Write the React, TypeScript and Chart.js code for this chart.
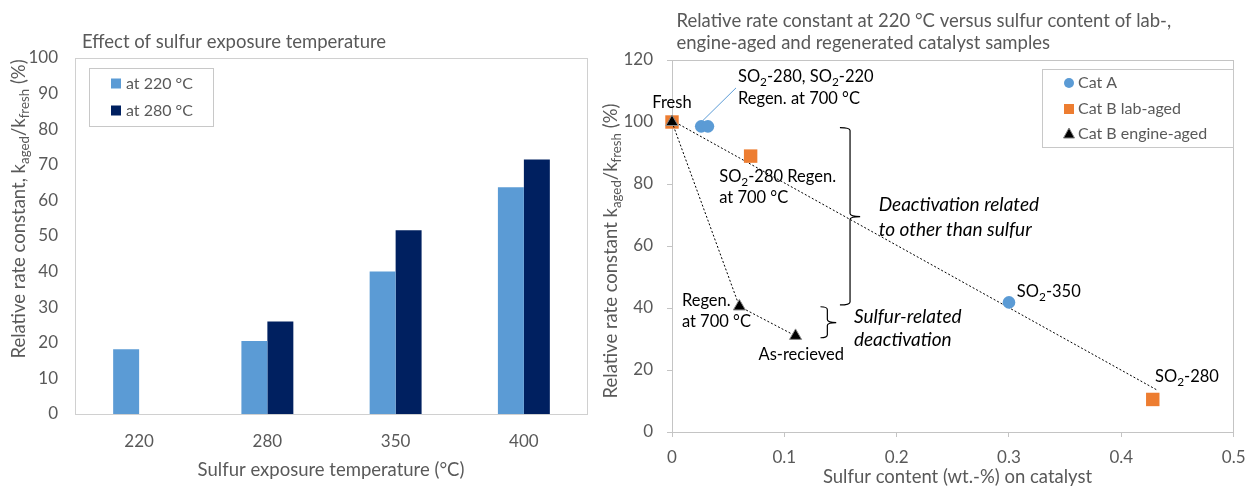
import React, { useEffect, useRef } from "react";
import { Chart, registerables } from "chart.js";
Chart.register(...registerables);

const FONT = "Lato, 'Open Sans', 'DejaVu Sans', sans-serif";
const TEXT_GRAY = "#595959";
const BLUE = "#5B9BD5";
const NAVY = "#002060";
const ORANGE = "#ED7D31";

// ---------- Left chart data ----------
const tempCategories = ["220", "280", "350", "400"];
const rate220 = [18.2, 20.5, 40.0, 63.7];
const rate280: (number | null)[] = [null, 26.0, 51.6, 71.5];
const barSeriesNames = ["at 220 °C", "at 280 °C"];
const barYTicks = [0, 10, 20, 30, 40, 50, 60, 70, 80, 90, 100];
const leftTitle = "Effect of sulfur exposure temperature";
const leftYTitle = "Relative rate constant, k_{aged}/k_{fresh} (%)";
const leftXTitle = "Sulfur exposure temperature (°C)";

// ---------- Right chart data ----------
const catAX = [0.026, 0.032, 0.3];
const catAY = [98.6, 98.6, 41.8];
const catBLabX = [0, 0.07, 0.428];
const catBLabY = [100, 89, 10.5];
const catBEngX = [0, 0.06, 0.11];
const catBEngY = [100, 40.5, 31];
const trendX = [0, 0.432];
const trendY = [100.5, 13.5];
const leaderX = [0.027, 0.057];
const leaderY = [100.3, 111];
const scatterNames = ["Cat A", "Cat B lab-aged", "Cat B engine-aged"];
const scatterXTicks = [0, 0.1, 0.2, 0.3, 0.4, 0.5];
const scatterXLabels = ["0", "0.1", "0.2", "0.3", "0.4", "0.5"];
const scatterYTicks = [0, 20, 40, 60, 80, 100, 120];
const rightTitle = [
  "Relative rate constant at 220 °C versus sulfur content of lab-,",
  "engine-aged and regenerated catalyst samples",
];
const rightYTitle = "Relative rate constant k_{aged}/k_{fresh} (%)";
const rightXTitle = "Sulfur content (wt.-%) on catalyst";

// annotation texts anchored in data coordinates
const annotations = [
  { text: "Fresh", x: 0, y: 106.1, align: "center", italic: false },
  { text: "SO_{2}-280, SO_{2}-220", x: 0.0587, y: 114.5, align: "left", italic: false },
  { text: "Regen. at 700 °C", x: 0.0587, y: 107.4, align: "left", italic: false },
  { text: "SO_{2}-280 Regen.", x: 0.042, y: 82.3, align: "left", italic: false },
  { text: "at 700 °C", x: 0.042, y: 75.5, align: "left", italic: false },
  { text: "Deactivation related", x: 0.184, y: 73.2, align: "left", italic: true },
  { text: "to other than sulfur", x: 0.184, y: 65.2, align: "left", italic: true },
  { text: "SO_{2}-350", x: 0.307, y: 45.2, align: "left", italic: false },
  { text: "SO_{2}-280", x: 0.43, y: 17.7, align: "left", italic: false },
  { text: "Regen.", x: 0.0088, y: 42.3, align: "left", italic: false },
  { text: "at 700 °C", x: 0.0088, y: 35.5, align: "left", italic: false },
  { text: "As-recieved", x: 0.077, y: 24.8, align: "left", italic: false },
  { text: "Sulfur-related", x: 0.162, y: 37.1, align: "left", italic: true },
  { text: "deactivation", x: 0.162, y: 29.7, align: "left", italic: true },
];
// braces: [xEnd, xSpine, xTip, yTop, yMid, yBottom]
const braces = [
  [0.1495, 0.1585, 0.1675, 98.2, 69.5, 41.0],
  [0.1322, 0.1383, 0.1462, 40.4, 35.3, 30.4],
];

type Seg = { t: string; sub: boolean };
function parseRich(s: string): Seg[] {
  const out: Seg[] = [];
  const re = /_\{([^}]*)\}/g;
  let last = 0;
  let m: RegExpExecArray | null;
  while ((m = re.exec(s))) {
    if (m.index > last) out.push({ t: s.slice(last, m.index), sub: false });
    out.push({ t: m[1], sub: true });
    last = re.lastIndex;
  }
  if (last < s.length) out.push({ t: s.slice(last), sub: false });
  return out;
}
function fontStr(size: number, italic: boolean) {
  return `${italic ? "italic " : ""}${size}px ${FONT}`;
}
function drawRich(
  ctx: CanvasRenderingContext2D,
  s: string,
  x: number,
  y: number,
  size: number,
  color: string,
  align: string = "left",
  italic = false
) {
  const segs = parseRich(s);
  let w = 0;
  for (const g of segs) {
    ctx.font = fontStr(g.sub ? size * 0.72 : size, italic);
    w += ctx.measureText(g.t).width;
  }
  let cx = align === "center" ? x - w / 2 : align === "right" ? x - w : x;
  ctx.fillStyle = color;
  ctx.textBaseline = "middle";
  ctx.textAlign = "left";
  for (const g of segs) {
    ctx.font = fontStr(g.sub ? size * 0.72 : size, italic);
    ctx.fillText(g.t, cx, g.sub ? y + size * 0.3 : y);
    cx += ctx.measureText(g.t).width;
  }
}
function drawBox(ctx: CanvasRenderingContext2D, a: any, color: string) {
  ctx.save();
  ctx.strokeStyle = color;
  ctx.lineWidth = 1;
  const l = Math.round(a.left) + 0.5;
  const t = Math.round(a.top) + 0.5;
  const r = Math.round(a.right) - 0.5;
  const b = Math.round(a.bottom) + 0.5;
  ctx.strokeRect(l, t, r - l, b - t);
  ctx.restore();
}

const TITLE_SIZE = 18.5;
const TICK_SIZE = 17;
const LEGEND_SIZE = 16;
const NOTE_SIZE = 16.5;
const NOTE_ITALIC_SIZE = 19;

function leftConfig(): any {
  const decor = {
    id: "leftDecor",
    beforeDatasetsDraw(chart: any) {
      drawBox(chart.ctx, chart.chartArea, "#D0D0D0");
    },
    afterDraw(chart: any) {
      const ctx: CanvasRenderingContext2D = chart.ctx;
      ctx.save();
      drawRich(ctx, leftTitle, 82, 42, TITLE_SIZE, TEXT_GRAY);
      drawRich(ctx, leftXTitle, 331, 470, TITLE_SIZE, TEXT_GRAY, "center");
      ctx.translate(19, 209);
      ctx.rotate(-Math.PI / 2);
      drawRich(ctx, leftYTitle, 0, 0, TITLE_SIZE, TEXT_GRAY, "center");
      ctx.restore();
      // legend
      ctx.save();
      ctx.strokeStyle = "#C8C8C8";
      ctx.lineWidth = 1;
      ctx.strokeRect(89.5, 68.5, 124, 58);
      const cols = [BLUE, NAVY];
      const ys = [83.5, 110.5];
      chart.data.datasets.forEach((ds: any, i: number) => {
        ctx.fillStyle = cols[i];
        ctx.fillRect(111, ys[i] - 5, 10, 10);
        drawRich(ctx, ds.label, 126, ys[i], LEGEND_SIZE, TEXT_GRAY);
      });
      ctx.restore();
    },
  };
  return {
    type: "bar",
    data: {
      labels: tempCategories,
      datasets: [
        { label: barSeriesNames[0], data: rate220, backgroundColor: BLUE },
        { label: barSeriesNames[1], data: rate280, backgroundColor: NAVY },
      ],
    },
    options: {
      responsive: false,
      animation: false,
      events: [],
      layout: { padding: { left: 0, top: 58, right: 12, bottom: 0 } },
      datasets: { bar: { categoryPercentage: 0.405, barPercentage: 1.0 } },
      plugins: { legend: { display: false }, tooltip: { enabled: false } },
      scales: {
        x: {
          grid: { display: false, drawTicks: false, tickLength: 0 },
          border: { display: false },
          ticks: { color: TEXT_GRAY, font: { family: FONT, size: TICK_SIZE }, padding: 17.5 },
          afterFit: (s: any) => {
            s.height = 73;
          },
        },
        y: {
          min: 0,
          max: 100,
          grid: { display: false, drawTicks: false, tickLength: 0 },
          border: { display: false },
          afterBuildTicks: (s: any) => {
            s.ticks = barYTicks.map((v) => ({ value: v }));
          },
          ticks: { color: TEXT_GRAY, font: { family: FONT, size: TICK_SIZE }, padding: 17 },
          afterFit: (s: any) => {
            s.width = 75;
          },
        },
      },
    },
    plugins: [decor],
  };
}

function drawMarker(ctx: CanvasRenderingContext2D, kind: string, x: number, y: number) {
  ctx.save();
  if (kind === "circle") {
    ctx.fillStyle = BLUE;
    ctx.beginPath();
    ctx.arc(x, y, 5, 0, Math.PI * 2);
    ctx.fill();
  } else if (kind === "rect") {
    ctx.fillStyle = ORANGE;
    ctx.fillRect(x - 5, y - 5, 10, 10);
  } else {
    ctx.fillStyle = "#000";
    ctx.strokeStyle = "#808080";
    ctx.lineWidth = 1;
    ctx.beginPath();
    ctx.moveTo(x, y - 6);
    ctx.lineTo(x + 5.5, y + 4);
    ctx.lineTo(x - 5.5, y + 4);
    ctx.closePath();
    ctx.fill();
    ctx.stroke();
  }
  ctx.restore();
}

function rightConfig(): any {
  const decor = {
    id: "rightDecor",
    beforeDatasetsDraw(chart: any) {
      drawBox(chart.ctx, chart.chartArea, "#C4C4C4");
    },
    afterDatasetsDraw(chart: any) {
      const ctx: CanvasRenderingContext2D = chart.ctx;
      const xs = chart.scales.x;
      const ys = chart.scales.y;
      ctx.save();
      ctx.strokeStyle = "#000";
      ctx.lineWidth = 1.2;
      for (const b of braces) {
        const xe = xs.getPixelForValue(b[0]);
        const xv = xs.getPixelForValue(b[1]);
        const xt = xs.getPixelForValue(b[2]);
        const yt = ys.getPixelForValue(b[3]);
        const ym = ys.getPixelForValue(b[4]);
        const yb = ys.getPixelForValue(b[5]);
        const r = 3;
        ctx.beginPath();
        ctx.moveTo(xe, yt);
        ctx.quadraticCurveTo(xv, yt, xv, yt + r);
        ctx.lineTo(xv, ym - r);
        ctx.quadraticCurveTo(xv, ym, xt, ym);
        ctx.quadraticCurveTo(xv, ym, xv, ym + r);
        ctx.lineTo(xv, yb - r);
        ctx.quadraticCurveTo(xv, yb, xe, yb);
        ctx.stroke();
      }
      for (const a of annotations) {
        drawRich(
          ctx,
          a.text,
          xs.getPixelForValue(a.x),
          ys.getPixelForValue(a.y),
          a.italic ? NOTE_ITALIC_SIZE : NOTE_SIZE,
          "#000",
          a.align,
          a.italic
        );
      }
      ctx.restore();
    },
    afterDraw(chart: any) {
      const ctx: CanvasRenderingContext2D = chart.ctx;
      ctx.save();
      drawRich(ctx, rightTitle[0], 76.5, 21.5, TITLE_SIZE, TEXT_GRAY);
      drawRich(ctx, rightTitle[1], 76.5, 43.5, TITLE_SIZE, TEXT_GRAY);
      drawRich(ctx, rightXTitle, 357.5, 477, TITLE_SIZE, TEXT_GRAY, "center");
      ctx.translate(11.5, 251);
      ctx.rotate(-Math.PI / 2);
      drawRich(ctx, rightYTitle, 0, 0, TITLE_SIZE, TEXT_GRAY, "center");
      ctx.restore();
      // legend
      ctx.save();
      ctx.strokeStyle = "#C8C8C8";
      ctx.lineWidth = 1;
      ctx.strokeRect(442.5, 69.5, 191, 78);
      const kinds = ["circle", "rect", "triangle"];
      const ly = [83, 109, 134];
      for (let i = 0; i < 3; i++) {
        drawMarker(ctx, kinds[i], 469, ly[i]);
        drawRich(ctx, scatterNames[i], 478, ly[i], LEGEND_SIZE, TEXT_GRAY);
      }
      ctx.restore();
    },
  };
  const pts = (xs: number[], ys: number[]) => xs.map((x, i) => ({ x, y: ys[i] }));
  return {
    type: "scatter",
    data: {
      datasets: [
        {
          label: scatterNames[0],
          data: pts(catAX, catAY),
          pointStyle: "circle",
          pointRadius: 6.3,
          backgroundColor: BLUE,
          borderColor: BLUE,
          borderWidth: 0,
          clip: false,
        },
        {
          label: scatterNames[2],
          data: pts(catBEngX, catBEngY),
          showLine: true,
          borderColor: "#000",
          borderWidth: 1,
          borderDash: [2, 2],
          pointStyle: "triangle",
          pointRadius: 7,
          pointBackgroundColor: "#000",
          pointBorderColor: "#8a8a8a",
          pointBorderWidth: 1,
          clip: false,
        },
        {
          label: scatterNames[1],
          data: pts(catBLabX, catBLabY),
          pointStyle: "rect",
          pointRadius: 9.5,
          backgroundColor: ORANGE,
          borderColor: ORANGE,
          borderWidth: 0,
          clip: false,
        },
        {
          label: "trend",
          data: pts(trendX, trendY),
          showLine: true,
          borderColor: "#000",
          borderWidth: 1,
          borderDash: [2, 2],
          pointRadius: 0,
          clip: false,
        },
        {
          label: "leader",
          data: pts(leaderX, leaderY),
          showLine: true,
          borderColor: BLUE,
          borderWidth: 1,
          pointRadius: 0,
          clip: false,
        },
      ],
    },
    options: {
      responsive: false,
      animation: false,
      events: [],
      layout: { padding: { left: 0, top: 60, right: 13, bottom: 0 } },
      plugins: { legend: { display: false }, tooltip: { enabled: false } },
      scales: {
        x: {
          type: "linear",
          min: 0,
          max: 0.5,
          afterBuildTicks: (s: any) => {
            s.ticks = scatterXTicks.map((v) => ({ value: v }));
          },
          grid: { display: true, drawOnChartArea: false, drawTicks: true, tickLength: 5, color: "#C4C4C4" },
          border: { display: false },
          ticks: {
            color: TEXT_GRAY,
            font: { family: FONT, size: TICK_SIZE },
            padding: 10.5,
            callback: (_v: any, i: number) => scatterXLabels[i],
          },
          afterFit: (s: any) => {
            s.height = 55;
          },
        },
        y: {
          type: "linear",
          min: 0,
          max: 120,
          afterBuildTicks: (s: any) => {
            s.ticks = scatterYTicks.map((v) => ({ value: v }));
          },
          grid: { display: true, drawOnChartArea: false, drawTicks: true, tickLength: 5, color: "#C4C4C4" },
          border: { display: false },
          ticks: {
            color: TEXT_GRAY,
            font: { family: FONT, size: TICK_SIZE },
            padding: 14,
            callback: (v: any) => String(v),
          },
          afterFit: (s: any) => {
            s.width = 72;
          },
        },
      },
    },
    plugins: [decor],
  };
}

export default function App() {
  const leftRef = useRef<HTMLCanvasElement>(null);
  const rightRef = useRef<HTMLCanvasElement>(null);
  useEffect(() => {
    const c1 = new Chart(leftRef.current as HTMLCanvasElement, leftConfig());
    const c2 = new Chart(rightRef.current as HTMLCanvasElement, rightConfig());
    return () => {
      c1.destroy();
      c2.destroy();
    };
  }, []);
  return (
    <div
      style={{
        position: "absolute",
        left: 0,
        top: 0,
        width: 1256,
        height: 487,
        background: "#fff",
        overflow: "hidden",
      }}
    >
      <canvas
        ref={leftRef}
        width={600}
        height={487}
        style={{ position: "absolute", left: 0, top: 0, width: 600, height: 487 }}
      />
      <canvas
        ref={rightRef}
        width={656}
        height={487}
        style={{ position: "absolute", left: 600, top: 0, width: 656, height: 487 }}
      />
    </div>
  );
}
